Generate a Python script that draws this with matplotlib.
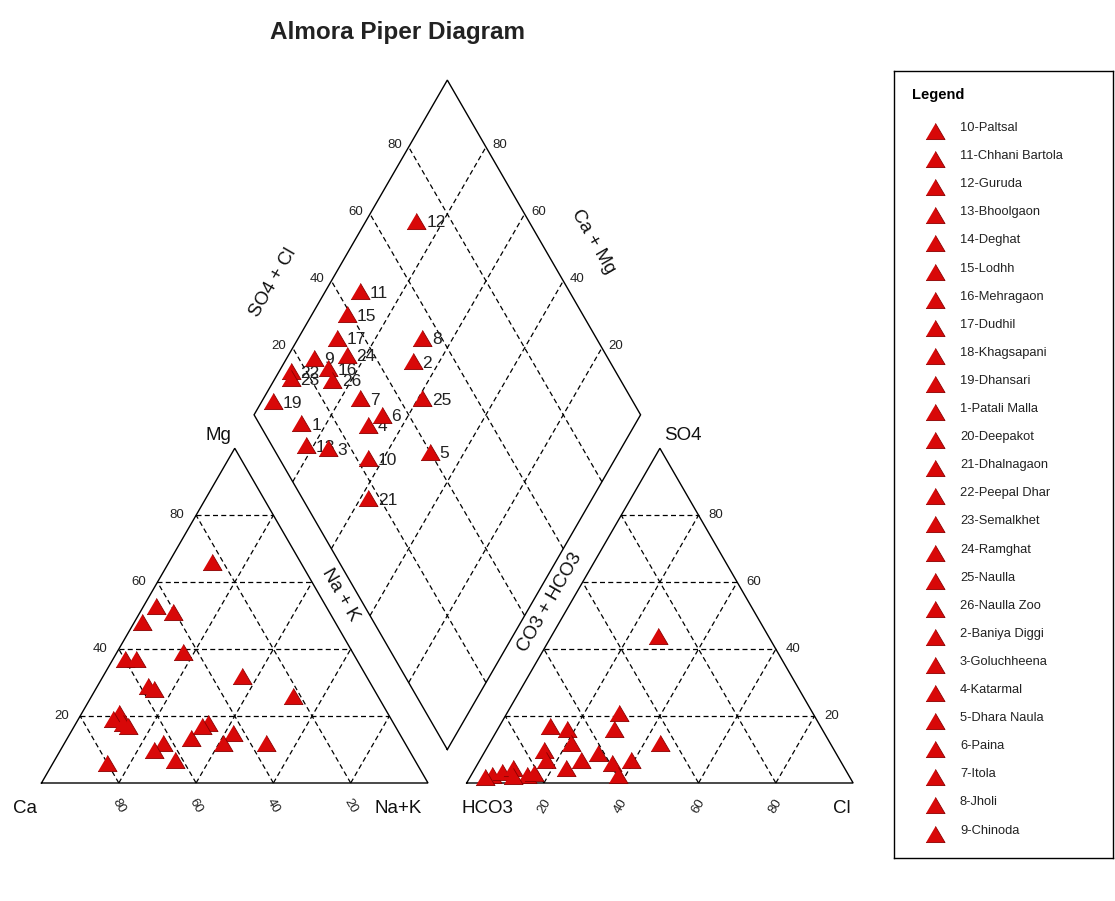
import matplotlib
matplotlib.use("Agg")
import matplotlib.pyplot as plt
import numpy as np

plt.rcParams['font.family'] = ['Liberation Sans', 'DejaVu Sans']

# legend entries (order as shown in the legend box)
sites = ["10-Paltsal", "11-Chhani Bartola", "12-Guruda", "13-Bhoolgaon", "14-Deghat",
         "15-Lodhh", "16-Mehragaon", "17-Dudhil", "18-Khagsapani", "19-Dhansari",
         "1-Patali Malla", "20-Deepakot", "21-Dhalnagaon", "22-Peepal Dhar", "23-Semalkhet",
         "24-Ramghat", "25-Naulla", "26-Naulla Zoo", "2-Baniya Diggi", "3-Goluchheena",
         "4-Katarmal", "5-Dhara Naula", "6-Paina", "7-Itola", "8-Jholi", "9-Chinoda"]

# diamond: sample number, Ca+Mg (%), SO4+Cl (%)
dia_id = [12, 11, 15, 17, 24, 9, 16, 22, 23, 26, 19, 7, 8, 2, 25, 6, 4, 1, 13, 3, 10, 5, 21]
dia_camg = [87, 91, 91, 90, 85, 93, 88, 97, 96, 85, 97, 75, 68, 67, 59, 67, 69, 86.5, 82, 76, 64, 49, 58]
dia_so4cl = [71, 46, 39, 33, 33, 24, 26, 16, 15, 25.5, 7, 30, 55, 49, 46, 33, 28, 11, 9, 14, 23, 40, 17]

# cation triangle: Mg (%) and Na+K (%)
cat_mg = [66, 53, 51, 48, 37, 37, 39, 32, 29, 28, 26, 21, 19, 18, 17, 18, 17, 12, 10, 13.5, 15, 12, 12, 7, 6]
cat_nak = [11, 3, 8.5, 2, 3, 6, 17, 36, 13, 15, 52, 9.5, 9, 12, 14, 34, 33, 25.5, 24, 32, 42, 41, 52, 31, 14]

# anion triangle: SO4 (%) and Cl (%)
an_so4 = [44, 21, 16, 17, 16, 12, 12, 10, 7, 7, 9, 6, 7, 4.5, 2.4, 2.4, 3.3, 4.5, 2.4, 1.8, 2, 3]
an_cl = [27.5, 29, 30, 13, 18, 21, 44, 15, 17, 26, 29.5, 34.5, 39, 23.5, 38, 5.4, 7.5, 9.8, 14.4, 3.9, 11, 16]

ticks = [20, 40, 60, 80]

g = 0.1
h = np.sqrt(3) / 2


def cat_xy(mg, nak):
    mg = np.asarray(mg) / 100.0
    nak = np.asarray(nak) / 100.0
    return nak + mg / 2, mg * h


def an_xy(so4, cl):
    so4 = np.asarray(so4) / 100.0
    cl = np.asarray(cl) / 100.0
    return 1 + g + cl + so4 / 2, so4 * h


def dia_xy(camg, so4cl):
    c = np.asarray(camg) / 100.0
    a = np.asarray(so4cl) / 100.0
    return 1 + g / 2 + 0.5 * (a - c), g * h + h * (a + c)


def seg(ax, p, q, **kw):
    ax.plot([p[0], q[0]], [p[1], q[1]], **kw)


fig = plt.figure(figsize=(11.15, 9.01), dpi=100)
ax = fig.add_axes([0, 0, 1, 1])
x0, s, ybase = 41.5, 386.5, 783
ax.set_xlim(-x0 / s, (1115 - x0) / s)
ax.set_ylim((ybase - 901) / s, ybase / s)
ax.axis('off')

edge = dict(color='black', lw=1.0, solid_joinstyle='miter')
dash = dict(color='black', lw=0.9, ls=(0, (4, 2.6)))

# outlines
ax.plot(*cat_xy([0, 0, 100, 0], [0, 100, 0, 0]), **edge)
ax.plot(*an_xy([0, 0, 100, 0], [0, 100, 0, 0]), **edge)
ax.plot(*dia_xy([0, 100, 100, 0, 0], [0, 0, 100, 100, 0]), **edge)

# grid lines
for p in ticks:
    q = 100 - p
    seg(ax, cat_xy(p, 0), cat_xy(p, q), **dash)
    seg(ax, cat_xy(0, p), cat_xy(q, p), **dash)
    seg(ax, cat_xy(0, q), cat_xy(q, 0), **dash)
    seg(ax, an_xy(p, 0), an_xy(p, q), **dash)
    seg(ax, an_xy(0, p), an_xy(q, p), **dash)
    seg(ax, an_xy(0, q), an_xy(q, 0), **dash)
    seg(ax, dia_xy(p, 0), dia_xy(p, 100), **dash)
    seg(ax, dia_xy(0, p), dia_xy(100, p), **dash)

# tick labels
tk = dict(fontsize=9.5, color='#222222', ha='center', va='center')
for p in ticks:
    x, y = cat_xy(p, 0)
    ax.text(x - 0.049, y, str(p), **tk)
    x, y = cat_xy(0, 100 - p)
    ax.text(x, y - 0.06, str(p), rotation=-60, **tk)
    x, y = an_xy(p, 100 - p)
    ax.text(x + 0.044, y, str(p), **tk)
    x, y = an_xy(0, p)
    ax.text(x, y - 0.06, str(p), rotation=60, **tk)
    x, y = dia_xy(100, p)
    ax.text(x - 0.036, y + 0.004, str(p), **tk)
    x, y = dia_xy(p, 100)
    ax.text(x + 0.036, y + 0.004, str(p), **tk)

# axis names
lab = dict(fontsize=13.5, ha='center', va='center', color='#111111')
ax.text(-0.043, -0.065, 'Ca', **lab)
ax.text(0.922, -0.065, 'Na+K', **lab)
ax.text(1.155, -0.065, 'HCO3', **lab)
ax.text(2.071, -0.065, 'Cl', **lab)
ax.text(0.457, 0.898, 'Mg', **lab)
ax.text(1.66, 0.898, 'SO4', **lab)
ax.text(0.599, 1.294, 'SO4 + Cl', rotation=60, **lab)
ax.text(1.427, 1.402, 'Ca + Mg', rotation=-60, **lab)
ax.text(0.772, 0.486, 'Na + K', rotation=-60, **lab)
ax.text(1.316, 0.468, 'CO3 + HCO3', rotation=60, **lab)

# markers
tri = [(-1, -0.85), (1, -0.85), (0, 0.85)]
mk = dict(marker=tri, s=188, c='#d80808', edgecolors='#8a0000', linewidths=0.6, zorder=5)

ax.scatter(*cat_xy(cat_mg, cat_nak), **mk)
ax.scatter(*an_xy(an_so4, an_cl), **mk)
dx, dy = dia_xy(dia_camg, dia_so4cl)
ax.scatter(dx, dy, **mk)
for i, n in enumerate(dia_id):
    ax.annotate(str(n), (dx[i], dy[i]), xytext=(7, -1.5), textcoords='offset points',
                ha='left', va='center', fontsize=12.5, color='#222222', zorder=4)

fig.text(398 / 1115, 1 - 32 / 901, 'Almora Piper Diagram', fontsize=17.5,
         fontweight='bold', ha='center', va='center', color='#222222')

# legend box
lx, ly, lw_, lh = 894, 71, 219, 787
lax = fig.add_axes([lx / 1115, 1 - (ly + lh) / 901, lw_ / 1115, lh / 901])
lax.set_xlim(0, lw_)
lax.set_ylim(lh, 0)
lax.set_xticks([])
lax.set_yticks([])
for sp in lax.spines.values():
    sp.set_linewidth(1.0)
    sp.set_color('black')
lax.text(18, 24, 'Legend', fontsize=10.5, fontweight='bold', ha='left', va='center')
rows = np.arange(len(sites))
lax.scatter(np.full(len(sites), 41), 60 + 28.1 * rows, **mk)
for i, name in enumerate(sites):
    lax.text(66, 57 + 28.1 * i, name, fontsize=9.3, ha='left', va='center', color='#222222')

fig.savefig('out.png', dpi=100)
